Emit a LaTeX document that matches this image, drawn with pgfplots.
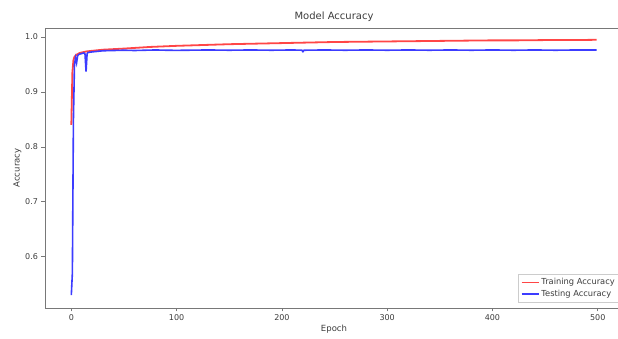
\documentclass[border=0pt]{standalone}
\usepackage{pgfplots}
\pgfplotsset{compat=1.18}
\usepackage{fontspec}
\setmainfont{DejaVu Sans}
\definecolor{trn}{RGB}{255,70,70}
\definecolor{tst}{RGB}{60,60,255}
\definecolor{axg}{RGB}{120,120,120}
\definecolor{txg}{RGB}{60,60,60}
\begin{document}
\begin{tikzpicture}[x=1pt,y=1pt]
\useasboundingbox (0,0) rectangle (618,339);
\clip (0,0) rectangle (618,339);
\begin{axis}[
  at={(45pt,31pt)}, anchor=south west,
  scale only axis, width=578pt, height=280pt,
  xmin=-25, xmax=524, ymin=0.5065, ymax=1.0165,
  xtick={0,100,200,300,400,500},
  ytick={0.6,0.7,0.8,0.9,1.0},
  yticklabel style={/pgf/number format/.cd,fixed,fixed zerofill,precision=1},
  /pgf/number format/assume math mode=true,
  tick align=outside, tick pos=left,
  major tick length=3.5pt,
  axis line style={axg, line width=0.8pt},
  tick style={axg, line width=0.7pt},
  every tick label/.append style={font=\fontsize{8}{9}\selectfont, text=txg},
  title={Model Accuracy},
  title style={font=\fontsize{10}{12}\selectfont, text=txg, yshift=-3pt},
  xlabel={Epoch}, ylabel={Accuracy},
  label style={font=\fontsize{8.5}{10}\selectfont, text=txg},
  xlabel style={yshift=3pt},
  ylabel style={yshift=-3pt},
  legend style={font=\fontsize{8.3}{9.5}\selectfont, text=txg, draw=black!20, inner sep=2pt, at={(0.993,0.02)}, anchor=south east},
  legend cell align=left,
]
\addlegendimage{color=trn, line width=1.8pt}
\addlegendentry{Training Accuracy}
\addlegendimage{color=tst, line width=1.6pt}
\addlegendentry{Testing Accuracy}
\addplot[color=trn, line width=1.8pt, forget plot] coordinates {
(0,0.840) (1,0.935) (2,0.958) (3,0.964) (5,0.968) (8,0.971) (10,0.972) (15,0.974) (20,0.975)
(30,0.977) (50,0.979) (75,0.982) (100,0.984) (125,0.9855) (150,0.987) (175,0.988)
(200,0.989) (225,0.990) (250,0.991) (275,0.9915) (300,0.992) (325,0.9925) (350,0.993)
(375,0.9935) (400,0.994) (425,0.994) (450,0.9945) (475,0.9945) (499,0.995)
};
\addplot[color=tst, line width=1.6pt, forget plot] coordinates {
(0,0.530) (1,0.570) (2,0.850) (3,0.950) (4,0.962) (5,0.953) (6,0.966) (7,0.968) (8,0.969)
(10,0.970) (12,0.971) (13,0.969) (14,0.937) (15,0.970) (16,0.972) (20,0.973) (25,0.974)
(30,0.975) (40,0.9755) (50,0.976) (60,0.9755) (70,0.976) (80,0.9765) (90,0.976) (100,0.9758)
(110,0.976) (130,0.9765) (150,0.976) (170,0.9765) (190,0.976) (210,0.9765) (219,0.976)
(220,0.9735) (221,0.976) (240,0.9765) (260,0.976) (280,0.9765) (300,0.976) (320,0.9765)
(340,0.976) (360,0.9765) (380,0.976) (400,0.9765) (420,0.976) (440,0.9765) (460,0.976)
(480,0.9765) (499,0.9765)
};
\end{axis}
\end{tikzpicture}
\end{document}
